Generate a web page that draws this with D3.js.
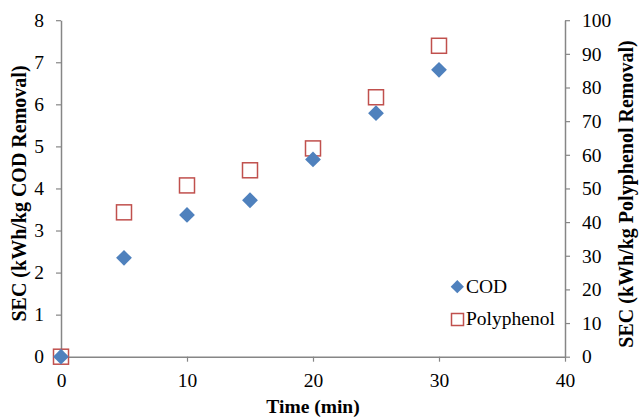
<!DOCTYPE html>
<html>
<head>
<meta charset="utf-8">
<script src="https://cdn.jsdelivr.net/npm/d3@7"></script>
<style>
body { margin: 0; background: #fff; }
svg text { font-family: "Liberation Serif", "Times New Roman", serif; fill: #000; }
</style>
</head>
<body>
<div id="chart"></div>
<script>
// data
var times = [0, 5, 10, 15, 20, 25, 30];
var codValues = [0, 2.35, 3.37, 3.72, 4.69, 5.79, 6.82];
var polyValues = [0, 42.9, 50.9, 55.4, 61.9, 77.1, 92.4];
var seriesNames = ["COD", "Polyphenol"];
var leftTicks = [0, 1, 2, 3, 4, 5, 6, 7, 8];
var rightTicks = [0, 10, 20, 30, 40, 50, 60, 70, 80, 90, 100];
var xTicks = [0, 10, 20, 30, 40];

var width = 639, height = 417;
var plotLeft = 61, plotRight = 565, plotTop = 20.2, plotBottom = 356.7;
var axisColor = "#868686";
var blue = "#4f81bd", red = "#c0504d";
var serif = "'Liberation Serif', 'Times New Roman', serif";

var svg = d3.select("#chart").append("svg").attr("width", width).attr("height", height);

var x = d3.scaleLinear().domain([0, 40]).range([plotLeft, plotRight]);
var yL = d3.scaleLinear().domain([0, 8]).range([plotBottom, plotTop]);
var yR = d3.scaleLinear().domain([0, 100]).range([plotBottom, plotTop]);

function styleAxis(g) {
  g.attr("font-family", serif).attr("font-size", 19.5);
  g.select(".domain").attr("stroke", axisColor).attr("stroke-width", 1.5);
  g.selectAll(".tick line").attr("stroke", axisColor).attr("stroke-width", 1.2);
  g.selectAll(".tick text").attr("fill", "#000");
}

svg.append("g").attr("transform", "translate(0," + plotBottom + ")")
  .call(d3.axisBottom(x).tickValues(xTicks).tickSize(5).tickSizeOuter(0).tickPadding(11))
  .call(styleAxis);

svg.append("g").attr("transform", "translate(" + plotLeft + ",0)")
  .call(d3.axisLeft(yL).tickValues(leftTicks).tickSize(5).tickSizeOuter(0).tickPadding(12))
  .call(styleAxis);

svg.append("g").attr("transform", "translate(" + plotRight + ",0)")
  .call(d3.axisRight(yR).tickValues(rightTicks).tickSize(5).tickSizeOuter(0).tickPadding(12))
  .call(styleAxis);

// axis titles
svg.append("text").attr("x", 313).attr("y", 412.5)
  .attr("text-anchor", "middle").style("font-size", "19.5px").style("font-weight", "bold")
  .text("Time (min)");
svg.append("text").attr("transform", "translate(26,193.5) rotate(-90)")
  .attr("text-anchor", "middle").style("font-size", "20px").style("font-weight", "bold")
  .text("SEC (kWh/kg COD Removal)");
svg.append("text").attr("transform", "translate(633,194) rotate(-90)")
  .attr("text-anchor", "middle").style("font-size", "20px").style("font-weight", "bold")
  .text("SEC (kWh/kg Polyphenol Removal)");

var diamond = d3.symbol().type(d3.symbolSquare).size(125);

// polyphenol squares
svg.selectAll(".poly").data(times).enter().append("rect")
  .attr("class", "poly")
  .attr("x", function(d) { return x(d) - 7.5; })
  .attr("y", function(d, i) { return yR(polyValues[i]) - 7.5; })
  .attr("width", 15).attr("height", 15)
  .attr("fill", "none").attr("stroke", red).attr("stroke-width", 1.5);

// COD diamonds
svg.selectAll(".cod").data(times).enter().append("path")
  .attr("class", "cod")
  .attr("d", diamond)
  .attr("transform", function(d, i) { return "translate(" + x(d) + "," + yL(codValues[i]) + ") rotate(45)"; })
  .attr("fill", blue);

// legend
var lg = svg.append("g");
lg.append("path").attr("d", d3.symbol().type(d3.symbolSquare).size(88))
  .attr("transform", "translate(457.3,286.7) rotate(45)").attr("fill", blue);
lg.append("text").attr("x", 466).attr("y", 292.7).style("font-size", "19.5px").text(seriesNames[0]);
lg.append("rect").attr("x", 451.5).attr("y", 313.5).attr("width", 12).attr("height", 12)
  .attr("fill", "none").attr("stroke", red).attr("stroke-width", 1.5);
lg.append("text").attr("x", 466).attr("y", 325).style("font-size", "19.5px").text(seriesNames[1]);
</script>
</body>
</html>
